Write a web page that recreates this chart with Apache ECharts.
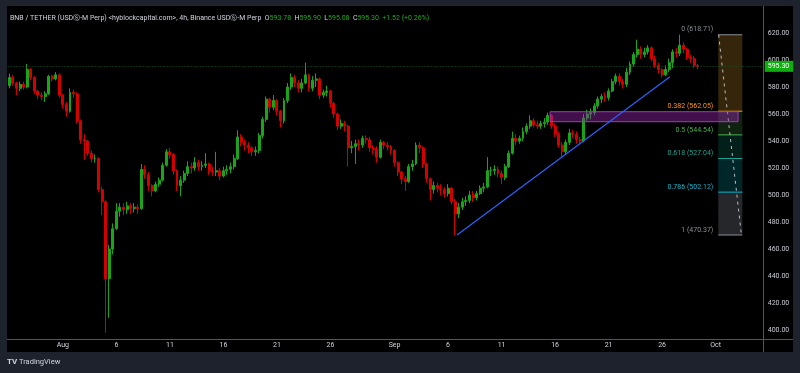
<!DOCTYPE html>
<html><head><meta charset="utf-8">
<script src="https://cdn.jsdelivr.net/npm/echarts@6/dist/echarts.min.js"></script>
<style>html,body{margin:0;padding:0;background:#1e222d;overflow:hidden}#c{width:800px;height:373px}</style>
</head><body><div id="c"></div>
<script>
// ---- time axis (8h slots from 27 Jul 2024 00:00 UTC) ----
const startUTC = Date.UTC(2024, 6, 27, 0);
const slotHours = 8;
const slotCount = 212;

// ---- OHLC values (8h candles) ----
const opens = [581,587,583,579,582,580,593,587,577,574, 573,575,588,586,589,574,567,562,576,575,
 555,541,540,531,527,527,504,495,438,460, 475,488,491,489,492,490,491,490,519,515,
 507,503,508,511,522,532,530,518,507,511, 516,521,520,524,521,522,523,518,517,518,
 514,518,519,521,527,543,539,537,535,532, 533,544,556,571,565,570,562,555,570,580,
 587,583,579,583,589,579,585,586,574,576, 577,568,560,551,553,551,535,536,538,537,
 542,541,535,534,528,539,537,536,533,524, 517,512,510,521,523,537,535,523,512,504,
 507,505,504,501,505,495,486,491,495,496, 500,498,501,505,506,518,518,519,516,513,
 521,531,542,540,542,547,551,555,552,551, 553,554,559,551,545,537,532,539,546,545,
 541,540,557,560,561,566,571,573,572,577, 584,588,584,582,591,597,604,608,604,606,
 609,601,596,593,589,593,598,606,605,611, 608,602,601,596];
const closes = [587,583,579,582,580,593,587,577,574,573, 575,588,586,589,574,567,562,576,575,555,
 541,540,531,527,527,504,495,438,460,475, 488,491,489,492,490,491,490,519,515,507,
 503,508,511,522,532,530,518,507,511,516, 521,520,524,521,522,523,518,517,518,514,
 518,519,521,527,543,539,537,535,532,533, 544,556,571,565,570,562,555,570,580,587,
 583,579,583,589,579,585,586,574,576,577, 568,560,551,553,551,535,536,538,537,542,
 541,535,534,528,539,537,536,533,524,517, 512,510,521,523,537,535,523,512,504,507,
 505,504,501,505,495,486,491,495,496,500, 498,501,505,506,518,518,519,516,513,521,
 531,542,540,542,547,551,555,552,551,553, 554,559,551,545,537,532,539,546,545,541,
 540,557,560,561,566,571,573,572,577,584, 588,584,582,591,597,604,608,604,606,609,
 601,596,593,589,593,598,606,605,611,608, 602,601,596,595.3];
const highs = [590,589,584,584,584,597,594,588,578,576, 577,589,589,591,590,575,569,579,578,576,
 556,545,541,533,530,528,506,496,463,479, 494,494,494,495,494,494,493,523,522,517,
 508,510,513,524,534,535,531,519,514,518, 525,524,528,526,525,531,524,521,532,520,
 521,522,524,530,548,545,541,539,536,536, 546,558,573,572,574,571,563,572,583,590,
 589,585,586,598,590,588,590,587,578,581, 578,569,561,556,555,552,540,541,541,544,
 544,543,537,536,541,540,539,537,534,525, 518,514,523,526,539,539,536,524,513,510,
 509,508,506,508,506,497,494,498,499,503, 503,503,507,509,528,521,522,521,518,523,
 533,547,545,544,550,553,559,557,555,555, 557,561,560,553,547,539,541,549,548,547,
 543,560,563,564,568,573,575,576,579,586, 590,590,586,594,599,606,615,610,609,611,
 610,603,598,594,596,601,608,609,618.71,613, 609,604,603,597];
const lows = [579,581,574,577,578,579,585,575,571,570, 569,574,584,585,572,564,558,561,572,553,
 538,526,529,524,524,502,485,398,409,456, 474,484,485,486,486,487,486,489,512,503,
 499,502,506,510,521,527,515,503,499,509, 514,516,518,518,518,520,515,514,514,511,
 513,515,516,519,526,536,533,531,529,529, 531,542,554,561,563,559,550,553,568,578,
 580,576,576,582,577,577,580,571,572,573, 565,557,548,549,547,521,531,523,533,535,
 538,532,530,524,527,534,533,530,521,514, 508,503,509,518,522,531,520,509,496,501,
 502,500,498,499,493,470.37,483,489,492,494, 495,496,500,502,505,514,515,513,508,511,
 520,530,537,538,540,545,549,550,549,549, 550,552,549,543,535,528,530,537,542,538,
 537,539,555,556,559,564,568,569,570,576, 582,581,579,580,589,595,602,601,602,604,
 599,594,590,587,588,591,594,602,603,605, 600,598,594,593];

// ---- tick labels ----
const timeTicks = [['2024-08-01','Aug'],['2024-08-06','6'],['2024-08-11','11'],['2024-08-16','16'],
 ['2024-08-21','21'],['2024-08-26','26'],['2024-09-01','Sep'],['2024-09-06','6'],['2024-09-11','11'],
 ['2024-09-16','16'],['2024-09-21','21'],['2024-09-26','26'],['2024-10-01','Oct']];
const priceTicks = [400,420,440,460,480,500,520,540,560,580,600,620];
const lastPrice = 595.30;

// ---- drawings ----
const fibRatios = [0, 0.382, 0.5, 0.618, 0.786, 1];
const fibPrices = [618.71, 562.05, 544.54, 527.04, 502.12, 470.37];
const fibSlots = [198.75, 205.5];
const trendLine = [[125.5, 470.37], [185.2, 587.6]];
const zoneSlots = [151.6, 204.3];
const zonePrices = [554.3, 561.7];

const fibColors = ['#8a8d96','#ff9800','#4caf50','#1fa394','#14b4cc','#8a8d96'];
const fibFills = ['rgba(190,135,40,0.28)','rgba(76,175,80,0.2)','rgba(8,153,129,0.2)','rgba(0,188,212,0.2)','rgba(125,128,138,0.3)'];

const pad = n => String(n).padStart(2,'0');
const categories = [];
for (let i = 0; i < slotCount; i++) {
  const d = new Date(startUTC + i*slotHours*3600000);
  categories.push(`${d.getUTCFullYear()}-${pad(d.getUTCMonth()+1)}-${pad(d.getUTCDate())} ${pad(d.getUTCHours())}:00`);
}
const tickMap = {};
timeTicks.forEach(([d,l]) => { tickMap[d + ' 00:00'] = l; });

const candles = opens.map((o,i) => [o, closes[i], Math.min(lows[i], o, closes[i]), Math.max(highs[i], o, closes[i])]);

const UP = '#19a519', DOWN = '#d40000';
const FONT = 'Roboto, "Liberation Sans", sans-serif';
const gridLeft = 7.6;
const gridW = slotCount * 10.7 / 3;

const chart = echarts.init(document.getElementById('c'), null, {renderer:'canvas'});
chart.setOption({
  animation: false,
  backgroundColor: '#1e222d',
  grid: {left: gridLeft, width: gridW, top: 6, height: 351},
  xAxis: [{
    type: 'category', data: categories, boundaryGap: true, offset: -18,
    axisLine: {show: false}, axisTick: {show: false}, splitLine: {show: false},
    axisLabel: {
      interval: (idx, val) => tickMap[val] !== undefined,
      formatter: val => tickMap[val] || '',
      color: '#d1d4dc', fontSize: 7, fontFamily: FONT, margin: 3
    }
  }, {
    type: 'value', min: -0.5, max: slotCount - 0.5, show: false
  }],
  yAxis: [{
    type: 'value', position: 'right', min: 380, max: 640, interval: 20, scale: true,
    axisLine: {show: false}, axisTick: {show: false}, splitLine: {show: false},
    axisLabel: {
      formatter: v => priceTicks.includes(v) ? v.toFixed(2) : '',
      color: '#c8cbd3', fontSize: 7, fontFamily: FONT, margin: 4
    }
  }],
  graphic: [
    {type:'rect', z:-10, shape:{x:7, y:6, width:786, height:346}, style:{fill:'#000'}},
    {type:'line', z:1, shape:{x1:763.5, y1:6, x2:763.5, y2:352}, style:{stroke:'#555', lineWidth:1}},
    {type:'line', z:1, shape:{x1:7, y1:339.5, x2:793, y2:339.5}, style:{stroke:'#555', lineWidth:1}},
    {type:'text', z:3, left:10, top:12, style:{
      text: '{t|BNB / TETHER (USDⓈ-M Perp) <hyblockcapital.com>, 4h, Binance USDⓈ-M Perp} {t|O}{v|593.78} {t|H}{v|595.90} {t|L}{v|595.08} {t|C}{v|595.30} {v|+1.52 (+0.26%)}',
      rich: {t:{fill:'#d1d4dc', fontSize:7, fontFamily:FONT}, v:{fill:'#1fa81f', fontSize:7, fontFamily:FONT}}
    }},
    {type:'text', left:7, top:358, style:{text:'TV', fill:'#d1d4dc', font:'bold 8px ' + FONT}},
    {type:'text', left:19, top:358, style:{text:'TradingView', fill:'#d1d4dc', font:'7.5px ' + FONT}}
  ],
  series: [
    {
      type: 'candlestick', data: candles, barWidth: '68%', z: 3,
      itemStyle: {color: UP, color0: DOWN, borderColor: UP, borderColor0: DOWN, borderWidth: 1},
      markLine: {
        silent: true, symbol: ['none','none'], animation: false,
        lineStyle: {type: [1, 2], color: '#145a20', width: 1},
        label: {position: 'end', distance: 1, formatter: lastPrice.toFixed(2), color: '#fff',
                backgroundColor: '#10ad10', padding: [2,4,2,3], fontSize: 7, fontFamily: FONT},
        data: [{yAxis: lastPrice}]
      }
    },
    {
      type: 'custom', xAxisIndex: 1, yAxisIndex: 0, z: 4, silent: true,
      data: fibPrices.map((p,i) => [fibSlots[0], p, fibSlots[1], i]),
      encode: {x: [0,2], y: 1},
      renderItem: (params, api) => {
        const i = params.dataIndex;
        const p = fibPrices[i];
        const a = api.coord([fibSlots[0], p]);
        const b = api.coord([fibSlots[1], p]);
        const ch = [];
        if (i < fibPrices.length - 1) {
          const c = api.coord([fibSlots[1], fibPrices[i+1]]);
          ch.push({type:'rect', shape:{x:a[0], y:a[1], width:b[0]-a[0], height:c[1]-a[1]}, style:{fill:fibFills[i]}});
        }
        ch.push({type:'line', shape:{x1:a[0], y1:a[1], x2:b[0], y2:b[1]}, style:{stroke:fibColors[i], lineWidth:1}});
        ch.push({type:'text', x:a[0]-5, y:a[1]-1.5, style:{
          text: `${fibRatios[i]} (${p.toFixed(2)})`, fill: fibColors[i], font: '7px ' + FONT,
          align:'right', textAlign:'right', verticalAlign:'bottom', textVerticalAlign:'bottom'}});
        if (i === 0) {
          const e = api.coord([fibSlots[1] - 0.25, fibPrices[fibPrices.length-1]]);
          const s = api.coord([fibSlots[0] + 0.1, fibPrices[0]]);
          ch.push({type:'line', z2: 10, shape:{x1:s[0], y1:s[1], x2:e[0], y2:e[1]}, style:{stroke:'#b8bbc4', lineWidth:1, lineDash:[3,4]}});
        }
        return {type:'group', children: ch};
      }
    },
    {
      type: 'custom', xAxisIndex: 1, yAxisIndex: 0, z: 5, silent: true,
      data: [[zoneSlots[0], zonePrices[0], zoneSlots[1], zonePrices[1]]],
      encode: {x: [0,2], y: [1,3]},
      renderItem: (params, api) => {
        const p0 = api.coord([api.value(0), api.value(3)]);
        const p1 = api.coord([api.value(2), api.value(1)]);
        return {type:'rect', shape:{x:p0[0], y:p0[1], width:p1[0]-p0[0], height:p1[1]-p0[1]},
                style:{fill:'rgba(156,39,176,0.42)', stroke:'#a13bb8', lineWidth:1}};
      }
    },
    {
      type: 'line', xAxisIndex: 1, yAxisIndex: 0, z: 6, silent: true, symbol: 'none',
      data: trendLine, lineStyle: {color: '#2962ff', width: 1.2}
    }
  ]
});
</script></body></html>
